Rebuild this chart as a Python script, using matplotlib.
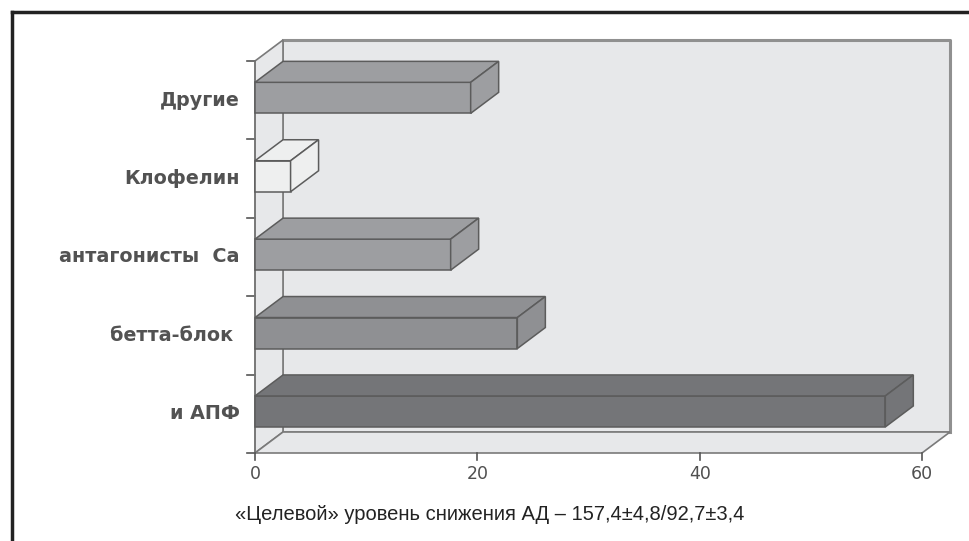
import matplotlib
matplotlib.use("Agg")
import matplotlib.pyplot as plt
from matplotlib.patches import Polygon

# Data
categories = ["и АПФ", "бетта-блок ", "антагонисты  Ca", "Клофелин", "Другие"]
values = [56.7, 23.6, 17.6, 3.2, 19.4]
bar_colors = ["#747578", "#8f9093", "#9d9ea1", "#eeefef", "#9d9ea1"]
x_ticks = [0, 20, 40, 60]
caption = "«Целевой» уровень снижения АД – 157,4±4,8/92,7±3,4"

W, H, DPI = 970, 541, 100
fig = plt.figure(figsize=(W / DPI, H / DPI), dpi=DPI)
fig.patch.set_facecolor("white")

# Front plane of the 3D box in pixels: x 255..922, y 61..453 (from top)
px_left, px_right = 255, 922
px_top, px_bottom = 61, 453
ax = fig.add_axes([px_left / W, 1 - px_bottom / H,
                   (px_right - px_left) / W, (px_bottom - px_top) / H])
xmax = 60
n = len(categories)
ax.set_xlim(0, xmax)
ax.set_ylim(-0.5, n - 0.5)
ax.axis("off")

# depth offset (in data units) for the pseudo-3D look
ppx = (px_right - px_left) / xmax
ppy = (px_bottom - px_top) / n
dx = 28 / ppx
dy = 21 / ppy

wall = "#e7e8ea"
edge = "#7a7a7a"
y0, y1 = -0.5, n - 0.5

def poly(pts, fc, ec=edge, lw=1.0, z=1):
    p = Polygon(pts, closed=True, facecolor=fc, edgecolor=ec, linewidth=lw,
                clip_on=False, zorder=z, joinstyle="miter")
    ax.add_patch(p)

# back wall, side wall, floor
poly([(dx, y0 + dy), (xmax + dx, y0 + dy), (xmax + dx, y1 + dy), (dx, y1 + dy)],
     wall, ec="#8a8a8a", lw=1.2, z=1)
ax.plot([dx, xmax + dx, xmax + dx], [y1 + dy, y1 + dy, y0 + dy], color="#909090",
        lw=2.2, clip_on=False, zorder=1.5, solid_capstyle="projecting")
poly([(0, y0), (dx, y0 + dy), (dx, y1 + dy), (0, y1)], wall, lw=1.2, z=2)
poly([(0, y0), (xmax, y0), (xmax + dx, y0 + dy), (dx, y0 + dy)], wall, lw=1.2, z=2)

# category ticks on the left edge
for k in range(n + 1):
    yy = k - 0.5
    ax.plot([-8 / ppx, 0], [yy, yy], color="#555555", lw=1.2, clip_on=False, zorder=3)
ax.plot([0, 0], [y0, y1], color="#777777", lw=1.2, clip_on=False, zorder=3)

# value ticks and labels along the floor front edge
for t in x_ticks:
    ax.plot([t, t], [y0, y0 - 7 / ppy], color="#555555", lw=1.2, clip_on=False, zorder=3)
    ax.text(t, y0 - 21 / ppy, str(t), ha="center", va="center", fontsize=12.5,
            color="#505050", family="DejaVu Sans")

# bars
bh = 31 / ppy
bar_edge = "#5c5c5c"
for i, (v, c) in enumerate(zip(values, bar_colors)):
    lo, hi = i - bh / 2 + 0.03, i + bh / 2 + 0.03
    poly([(0, lo), (v, lo), (v, hi), (0, hi)], c, ec=bar_edge, lw=1.1, z=5)
    poly([(0, hi), (v, hi), (v + dx, hi + dy), (dx, hi + dy)], c, ec=bar_edge, lw=1.1, z=5)
    poly([(v, lo), (v + dx, lo + dy), (v + dx, hi + dy), (v, hi)], c, ec=bar_edge, lw=1.1, z=5)
    ax.text(-15 / ppx, i, categories[i], ha="right", va="center", fontsize=13.8,
            color="#525252", fontweight="bold", family="DejaVu Sans")

# caption
fig.text(490 / W, 1 - 514 / H, caption, ha="center", va="center", fontsize=14.5,
         color="#222222", family=["Liberation Sans Narrow", "Liberation Sans", "DejaVu Sans"])

# outer frame (top and left rules)
fig.add_artist(plt.Line2D([12 / W, 12 / W], [0, 1 - 12 / H], transform=fig.transFigure,
                          color="#222222", lw=2.5))
fig.add_artist(plt.Line2D([12 / W, 1], [1 - 12 / H, 1 - 12 / H], transform=fig.transFigure,
                          color="#222222", lw=2.5, solid_capstyle="projecting"))

fig.savefig("out.png", dpi=DPI)
